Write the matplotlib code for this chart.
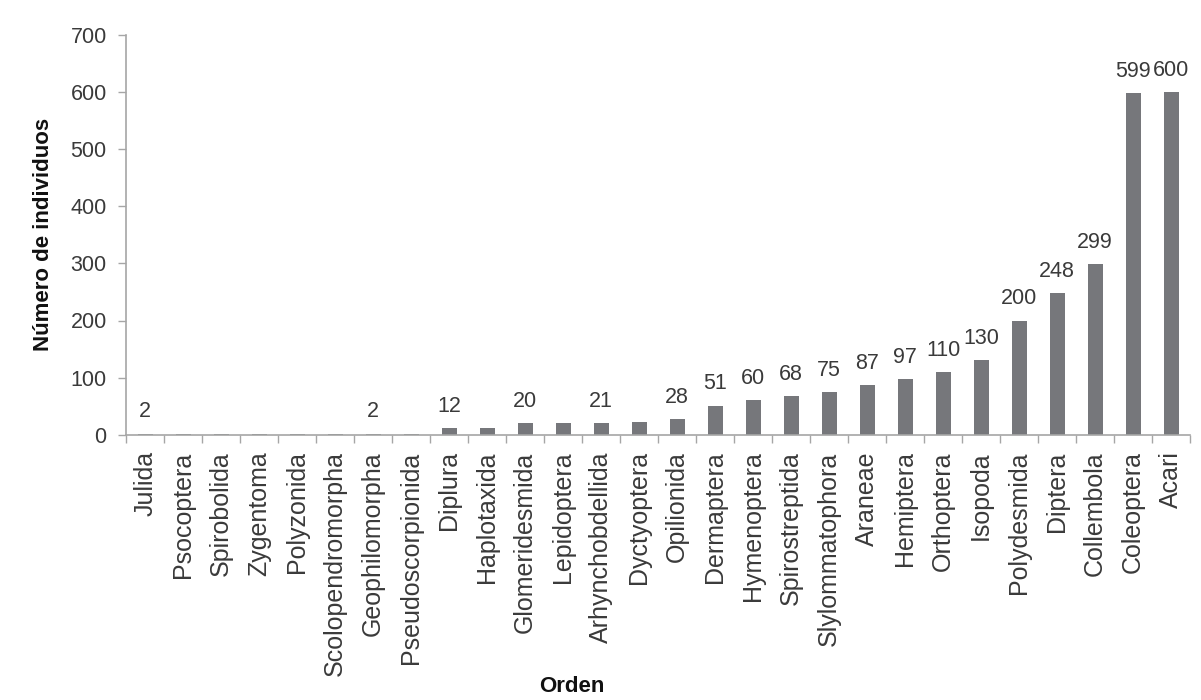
import numpy as np
import matplotlib
matplotlib.use('Agg')
import matplotlib.pyplot as plt

plt.rcParams['font.family'] = ['Liberation Sans', 'DejaVu Sans']

ordenes = ['Julida', 'Psocoptera', 'Spirobolida', 'Zygentoma', 'Polyzonida',
           'Scolopendromorpha', 'Geophilomorpha', 'Pseudoscorpionida',
           'Diplura', 'Haplotaxida', 'Glomeridesmida', 'Lepidoptera',
           'Arhynchobdellida', 'Dyctyoptera', 'Opilionida', 'Dermaptera',
           'Hymenoptera', 'Spirostreptida', 'Slylommatophora', 'Araneae',
           'Hemiptera', 'Orthoptera', 'Isopoda', 'Polydesmida', 'Diptera',
           'Collembola', 'Coleoptera', 'Acari']
individuos = [2, 2, 2, 2, 2, 2, 2, 2, 12, 12, 20, 20, 21, 22, 28, 51, 60,
              68, 75, 87, 97, 110, 130, 200, 248, 299, 599, 600]
# which bars carry a value label in the original
con_etiqueta = [1, 0, 0, 0, 0, 0, 1, 0, 1, 0, 1, 0, 1, 0, 1, 1, 1, 1, 1,
                1, 1, 1, 1, 1, 1, 1, 1, 1]

BAR = '#76777b'
AXC = '#a6a6a6'
TXT = '#3a3a3a'

fig = plt.figure(figsize=(12.01, 7.0), dpi=100)
ax = fig.add_axes([0.105, 0.379, 0.886, 0.571])

x = np.arange(len(ordenes))
ax.bar(x, individuos, width=0.4, color=BAR, zorder=2)

for xi, v, lab in zip(x, individuos, con_etiqueta):
    if lab:
        ax.annotate(str(v), (xi, v), xytext=(0, 8), textcoords='offset points',
                    ha='center', va='bottom', fontsize=15.5, color=TXT)

ax.set_xlim(-0.5, len(ordenes) - 0.5)
ax.set_ylim(0, 700)
ax.set_yticks(range(0, 701, 100))
ax.set_xticks(x)
ax.set_xticklabels(ordenes, rotation=90, fontsize=18, color=TXT)
ax.set_xticks(np.arange(-0.5, len(ordenes), 1), minor=True)
ax.tick_params(axis='x', which='major', length=0, pad=12)
ax.tick_params(axis='x', which='minor', length=6, width=1, color=AXC,
               direction='out')
ax.tick_params(axis='y', length=6, width=1, color=AXC, direction='out',
               labelsize=15.5, labelcolor=TXT, pad=8)

for s in ['top', 'right']:
    ax.spines[s].set_visible(False)
for s in ['left', 'bottom']:
    ax.spines[s].set_color(AXC)
    ax.spines[s].set_linewidth(1.2)

ax.set_ylabel('Número de individuos', fontsize=16, fontweight='bold',
              color='#111111', labelpad=12)
fig.text(0.476, 0.004, 'Orden', fontsize=16, fontweight='bold',
         color='#111111', ha='center', va='bottom')

fig.savefig('out.png', dpi=100)
